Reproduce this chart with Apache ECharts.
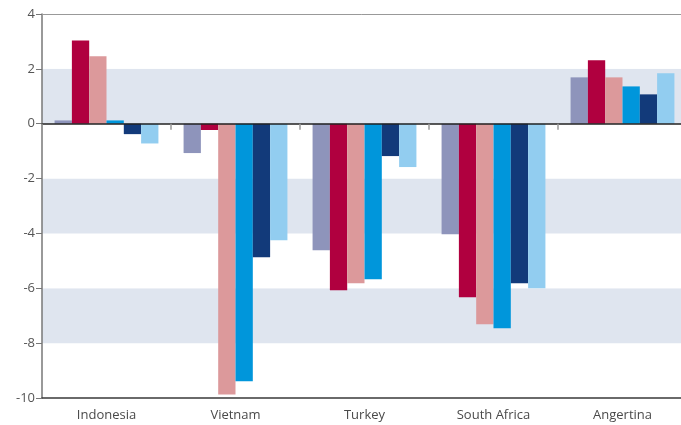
<!DOCTYPE html>
<html>
<head>
<meta charset="utf-8">
<script src="https://cdn.jsdelivr.net/npm/echarts@6/dist/echarts.min.js"></script>
<style>
  html, body { margin: 0; padding: 0; background: #fff; }
  #chart { width: 681px; height: 425px; }
</style>
</head>
<body>
<div id="chart"></div>
<script>
// Countries along the category axis
var categories = ['Indonesia', 'Vietnam', 'Turkey', 'South Africa', 'Angertina'];

// Six series, one value per country
var seriesA = [0.12, -1.07, -4.61, -4.03, 1.69];
var seriesB = [3.03, -0.23, -6.07, -6.33, 2.31];
var seriesC = [2.46, -9.87, -5.82, -7.31, 1.69];
var seriesD = [0.12, -9.39, -5.67, -7.46, 1.36];
var seriesE = [-0.38, -4.87, -1.18, -5.82, 1.07];
var seriesF = [-0.72, -4.25, -1.58, -6.00, 1.84];

// Value axis range and step
var yMin = -10, yMax = 4, yStep = 2;

var colors = ['#8e94bb', '#b0003f', '#dc999b', '#0096db', '#123a7a', '#92cdf0'];
var allSeries = [seriesA, seriesB, seriesC, seriesD, seriesE, seriesF];

var fontFamily = '"Open Sans", "Noto Sans", sans-serif';

var chart = echarts.init(document.getElementById('chart'), null, { renderer: 'canvas' });

chart.setOption({
  animation: false,
  backgroundColor: '#ffffff',
  // plot area runs slightly past the right edge of the canvas
  grid: {
    left: 42, width: 645, top: 14, bottom: 27,
    containLabel: false,
    outerBoundsMode: 'none'
  },
  xAxis: [
    {
      // bottom axis carrying the country names
      type: 'category',
      data: categories,
      position: 'bottom',
      axisLine: { onZero: false, lineStyle: { color: '#3a3a3a', width: 1.5 } },
      axisTick: { show: false },
      axisLabel: { color: '#4a4a4a', fontSize: 13, fontFamily: fontFamily, margin: 11 },
      splitLine: { show: false }
    },
    {
      // zero baseline with category separators
      type: 'category',
      data: categories,
      position: 'bottom',
      z: 5,
      axisLine: { onZero: true, lineStyle: { color: '#222', width: 1.5 } },
      axisTick: { show: true, length: 6, lineStyle: { color: '#999', width: 1.5 } },
      axisLabel: { show: false },
      splitLine: { show: false }
    },
    {
      // thin frame line along the top
      type: 'category',
      data: categories,
      position: 'top',
      axisLine: { onZero: false, lineStyle: { color: '#999', width: 1 } },
      axisTick: { show: false },
      axisLabel: { show: false },
      splitLine: { show: false }
    }
  ],
  yAxis: {
    type: 'value',
    min: yMin,
    max: yMax,
    interval: yStep,
    axisLine: { show: true, lineStyle: { color: '#777', width: 1.5 } },
    axisTick: { show: true, length: 6, lineStyle: { color: '#777', width: 1 } },
    axisLabel: { color: '#555', fontSize: 13, fontFamily: fontFamily, margin: 7 },
    splitLine: { show: false },
    splitArea: { show: true, areaStyle: { color: ['#ffffff', '#dfe5ef'] } }
  },
  series: allSeries.map(function (vals, i) {
    return {
      type: 'bar',
      xAxisIndex: 0,
      data: vals,
      barGap: '0%',
      barCategoryGap: '19.5%',
      itemStyle: { color: colors[i] },
      emphasis: { disabled: true }
    };
  })
});
</script>
</body>
</html>
